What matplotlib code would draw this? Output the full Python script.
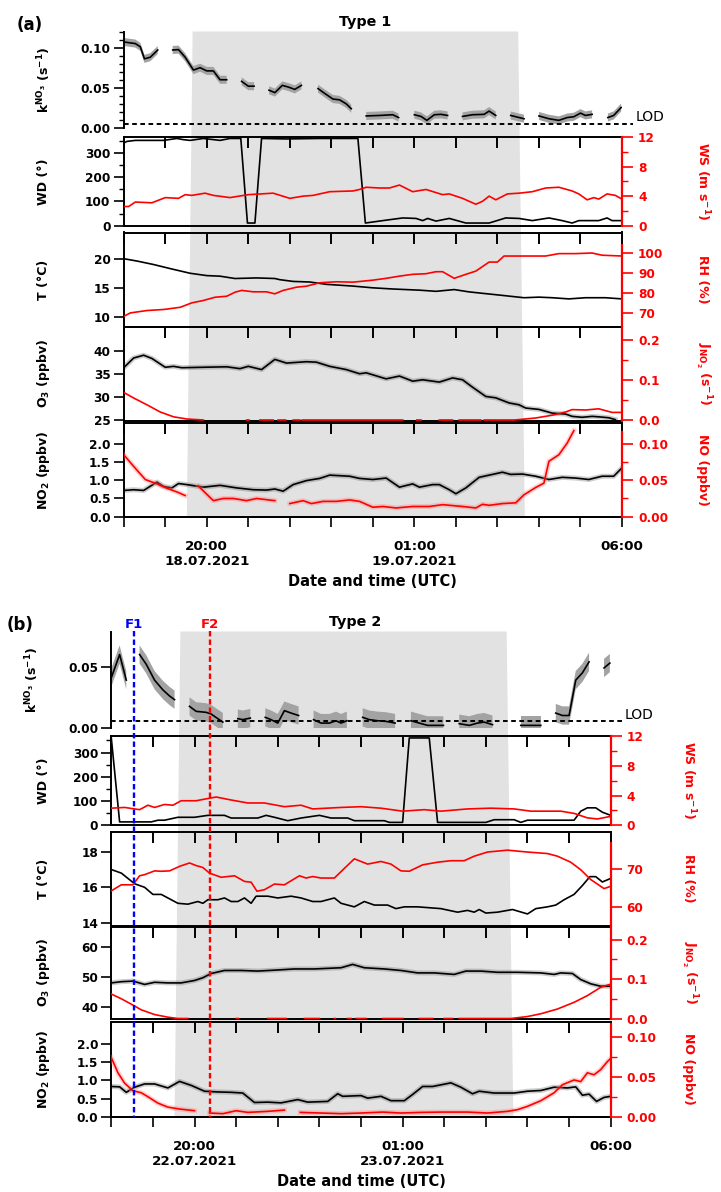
import numpy as np
import matplotlib
matplotlib.use('Agg')
import matplotlib.pyplot as plt
from matplotlib.patches import Polygon
from matplotlib.lines import Line2D
from matplotlib.ticker import FixedLocator, FormatStrFormatter

nan = np.nan

# time axis: hours after 18:00 UTC on the first date of each night

# ---------------- (a) Type 1, 18./19.07.2021 ----------------
k_a = np.array([
    [0.00, .107], [0.28, .105], [0.40, .101], [0.50, .086], [0.64, .088], [0.82, .097], [1.00, nan],
    [1.18, .097], [1.32, .0975], [1.48, .088], [1.68, .072], [1.84, .075], [2.00, .071], [2.16, .071],
    [2.32, .060], [2.48, .060], [2.65, nan],
    [2.84, .058], [3.00, .052], [3.14, .052], [3.30, nan],
    [3.50, .047], [3.64, .044], [3.82, .053], [3.96, .051], [4.12, .048], [4.28, .053], [4.50, nan],
    [4.68, .049], [4.84, .043], [5.04, .036], [5.20, .035], [5.36, .030], [5.48, .024], [5.65, nan],
    [5.84, .015], [6.16, .0156], [6.48, .0165], [6.62, .013], [6.80, nan],
    [7.00, .0165], [7.16, .0144], [7.30, .0095], [7.48, .0165], [7.64, .017], [7.80, .0156], [8.00, nan],
    [8.16, .0144], [8.40, .0165], [8.68, .017], [8.80, .021], [8.96, .0156], [9.15, nan],
    [9.32, .0156], [9.64, .0115], [9.80, nan],
    [10.00, .015], [10.24, .0115], [10.48, .0095], [10.68, .013], [10.84, .014], [11.00, .0185],
    [11.12, .0156], [11.28, .017], [11.45, nan],
    [11.66, .013], [11.80, .0156], [11.98, .0255]])
k_err_a = 0.005

wd_a = np.array([
    [0.00, 341], [0.08, 348], [0.28, 352], [0.96, 352], [1.28, 360], [1.44, 355], [1.60, 352], [1.92, 360],
    [2.32, 352], [2.56, 360], [2.82, 360], [2.98, 11], [3.16, 11], [3.32, 360], [3.92, 358], [4.72, 360],
    [5.64, 360], [5.82, 11], [6.24, 21], [6.72, 32], [7.04, 30], [7.20, 21], [7.32, 30], [7.52, 19],
    [7.84, 30], [8.24, 11], [8.80, 11], [9.20, 32], [9.52, 30], [9.84, 21], [10.24, 32], [10.56, 21],
    [10.80, 11], [10.96, 21], [11.44, 21], [11.64, 32], [11.76, 21], [12.00, 21]])

ws_a = np.array([
    [0.00, 2.6], [0.12, 2.6], [0.28, 3.2], [0.68, 3.1], [1.00, 3.8], [1.32, 3.7], [1.48, 4.2], [1.64, 4.1],
    [1.96, 4.4], [2.16, 4.1], [2.56, 3.8], [3.00, 4.2], [3.60, 4.4], [4.00, 3.7], [4.32, 4.0], [4.56, 4.1],
    [4.96, 4.6], [5.52, 4.7], [5.68, 4.9], [5.84, 5.2], [6.16, 5.1], [6.40, 5.1], [6.64, 5.5], [6.96, 4.6],
    [7.28, 4.9], [7.68, 4.2], [7.84, 4.3], [8.16, 3.7], [8.48, 2.9], [8.64, 3.3], [8.80, 4.0], [8.96, 3.5],
    [9.24, 4.3], [9.52, 4.4], [9.84, 4.6], [10.16, 5.1], [10.48, 5.2], [10.80, 4.7], [10.96, 4.3],
    [11.16, 3.5], [11.32, 3.8], [11.44, 3.6], [11.64, 4.3], [11.84, 4.1], [12.00, 3.6]])

temp_a = np.array([
    [0.00, 20.0], [0.32, 19.6], [0.72, 19.0], [1.12, 18.3], [1.60, 17.5], [2.00, 17.1], [2.32, 17.0],
    [2.68, 16.6], [3.20, 16.7], [3.64, 16.6], [3.76, 16.4], [4.08, 16.1], [4.48, 16.0], [4.88, 15.6],
    [5.52, 15.3], [6.00, 15.0], [6.48, 14.8], [7.12, 14.6], [7.52, 14.4], [7.96, 14.7], [8.32, 14.3],
    [8.72, 14.0], [9.12, 13.7], [9.64, 13.3], [10.00, 13.4], [10.32, 13.3], [10.72, 13.1], [11.12, 13.3],
    [11.60, 13.3], [12.00, 13.1]])

rh_a = np.array([
    [0.00, 68.3], [0.16, 70.0], [0.56, 71.2], [0.96, 71.7], [1.36, 72.8], [1.64, 75.0], [1.92, 76.2],
    [2.20, 77.8], [2.48, 78.3], [2.68, 80.3], [2.84, 81.2], [3.12, 80.5], [3.44, 80.5], [3.64, 79.5],
    [3.84, 81.2], [4.16, 82.8], [4.40, 83.3], [4.72, 85.0], [5.12, 85.5], [5.52, 85.3], [5.76, 85.8],
    [6.00, 86.3], [6.32, 87.2], [6.64, 88.3], [6.96, 89.2], [7.28, 89.5], [7.52, 90.5], [7.68, 90.5],
    [7.96, 87.2], [8.24, 89.2], [8.48, 90.8], [8.80, 95.3], [9.00, 95.3], [9.16, 98.3], [9.52, 98.3],
    [9.84, 98.3], [10.16, 98.3], [10.48, 99.5], [10.88, 99.5], [11.28, 99.8], [11.52, 98.7], [12.00, 98.3]])

o3_a = np.array([
    [0.00, 36.3], [0.24, 38.4], [0.48, 39.0], [0.68, 38.3], [1.00, 36.4], [1.20, 36.6], [1.40, 36.3],
    [1.92, 36.4], [2.48, 36.5], [2.80, 36.1], [3.00, 36.6], [3.32, 35.9], [3.64, 38.1], [3.92, 37.3],
    [4.40, 37.6], [4.64, 37.5], [4.96, 36.6], [5.36, 35.9], [5.68, 35.0], [5.84, 35.2], [6.32, 33.9],
    [6.64, 34.5], [6.96, 33.4], [7.20, 33.7], [7.60, 33.2], [7.92, 34.1], [8.16, 33.7], [8.40, 32.1],
    [8.72, 30.1], [8.96, 29.8], [9.28, 28.7], [9.52, 28.3], [9.68, 27.6], [10.00, 27.3], [10.32, 26.5],
    [10.64, 26.3], [10.80, 25.8], [11.04, 25.6], [11.28, 25.8], [11.44, 25.7], [11.68, 25.5], [11.84, 25.1]])

jno2_a = np.array([
    [0.00, .069], [0.24, .055], [0.56, .038], [0.88, .020], [1.20, .008], [1.52, .0025], [1.92, 0], [2.40, nan],
    [2.96, 0], [3.02, 0], [3.15, nan], [3.28, 0], [3.60, 0], [3.66, nan], [3.72, 0], [3.90, 0], [4.00, nan],
    [4.08, 0], [4.24, 0], [4.27, nan], [4.30, 0], [5.80, 0], [5.82, nan], [5.84, 0], [6.72, 0], [6.90, nan],
    [7.06, 0], [7.16, 0], [7.40, nan], [7.60, 0], [7.92, 0], [8.00, nan], [8.08, 0], [8.60, 0], [8.64, nan],
    [8.68, 0], [9.40, 0], [9.52, .001], [9.92, .005], [10.32, .012], [10.64, .020], [10.80, .026],
    [11.12, .025], [11.44, .028], [11.76, .019], [12.00, .019]])

no2_a = np.array([
    [0.00, .72], [0.24, .74], [0.48, .72], [0.80, .95], [0.96, .83], [1.16, .79], [1.32, .91], [1.52, .88],
    [1.92, .81], [2.32, .86], [2.72, .79], [3.12, .74], [3.44, .73], [3.64, .76], [3.84, .70], [4.08, .88],
    [4.40, .99], [4.72, 1.05], [4.96, 1.14], [5.44, 1.11], [5.68, 1.05], [6.00, 1.02], [6.32, 1.06],
    [6.64, .81], [6.96, .90], [7.12, .81], [7.44, .88], [7.60, .88], [7.84, .74], [8.00, .63], [8.24, .79],
    [8.56, 1.08], [8.88, 1.16], [9.12, 1.22], [9.32, 1.16], [9.60, 1.17], [9.92, 1.11], [10.24, 1.02],
    [10.56, 1.08], [10.88, 1.06], [11.20, 1.02], [11.52, 1.11], [11.80, 1.11], [12.00, 1.34]])

no_a = np.array([
    [0.00, .085], [0.24, .069], [0.52, .051], [0.80, .045], [1.04, .039], [1.28, .034], [1.48, .029], [1.60, nan],
    [1.80, .042], [1.96, .033], [2.16, .022], [2.40, .025], [2.64, .025], [2.96, .022], [3.20, .025],
    [3.64, .022], [3.80, nan],
    [4.00, .018], [4.32, .022], [4.52, .018], [4.80, .021], [5.12, .021], [5.44, .023], [5.68, .021],
    [6.00, .013], [6.24, .014], [6.56, .012], [6.96, .014], [7.36, .014], [7.68, .0165], [8.16, .014],
    [8.48, .012], [8.64, .017], [8.80, .0156], [9.12, .018], [9.44, .019], [9.64, .030], [9.92, .040],
    [10.12, .046], [10.24, .076], [10.48, .085], [10.68, .101], [10.84, .118]])

# ---------------- (b) Type 2, 22./23.07.2021 ----------------
k_b = np.array([
    [0.00, .041], [0.20, .060], [0.36, .039], [0.50, nan],
    [0.68, .060], [0.84, .052], [1.04, .039], [1.24, .031], [1.40, .026], [1.52, .023], [1.70, nan],
    [1.88, .0175], [2.04, .0134], [2.28, .0126], [2.40, .0112], [2.56, .0074], [2.68, .0046], [2.90, nan],
    [3.04, .0074], [3.16, .0066], [3.34, .0079], [3.50, nan],
    [3.70, .0085], [3.84, .0066], [4.00, .0038], [4.16, .014], [4.32, .012], [4.50, .010], [4.70, nan],
    [4.86, .0066], [5.04, .0038], [5.24, .0038], [5.40, .0057], [5.52, .0038], [5.66, .0057], [5.85, nan],
    [6.04, .0085], [6.20, .0066], [6.40, .0057], [6.60, .0052], [6.82, .0038], [7.00, nan],
    [7.20, .0057], [7.40, .0038], [7.60, .0019], [7.98, .0019], [8.20, nan],
    [8.36, .0033], [8.60, .0019], [8.80, .0038], [8.96, .0046], [9.16, .0025], [9.50, nan],
    [9.84, .0019], [10.32, .0019], [10.50, nan],
    [10.68, .012], [10.84, .010], [11.00, .010], [11.16, .039], [11.32, .045], [11.48, .054], [11.65, nan],
    [11.84, .049], [11.98, .053]])
k_err_b = 0.0075

wd_b = np.array([
    [0.00, 360], [0.20, 14], [0.96, 14], [1.12, 21], [1.28, 21], [1.60, 33], [2.00, 33], [2.32, 41],
    [2.72, 41], [2.88, 30], [3.52, 30], [3.72, 41], [3.92, 33], [4.24, 19], [4.56, 30], [5.00, 41],
    [5.28, 30], [5.68, 30], [5.84, 19], [6.56, 19], [6.68, 12], [7.00, 12], [7.16, 360], [7.64, 360],
    [7.84, 12], [9.00, 12], [9.20, 23], [9.68, 23], [9.84, 12], [10.00, 21], [11.12, 21], [11.28, 58],
    [11.44, 72], [11.64, 72], [11.80, 54], [12.00, 41]])

ws_b = np.array([
    [0.00, 2.3], [0.32, 2.4], [0.68, 2.1], [0.88, 2.7], [1.04, 2.4], [1.28, 2.8], [1.48, 2.7], [1.68, 3.3],
    [2.04, 3.3], [2.32, 3.6], [2.52, 3.8], [2.88, 3.4], [3.28, 3.0], [3.68, 3.0], [4.16, 2.5], [4.56, 2.7],
    [4.84, 2.2], [5.52, 2.4], [6.00, 2.5], [6.48, 2.3], [7.00, 1.9], [7.52, 2.1], [7.92, 1.9], [8.56, 2.2],
    [9.12, 2.3], [9.68, 2.2], [10.08, 1.9], [10.80, 1.9], [11.12, 1.6], [11.44, 1.0], [11.68, 0.85],
    [12.00, 1.2]])

temp_b = np.array([
    [0.00, 17.0], [0.24, 16.8], [0.56, 16.2], [0.80, 16.0], [1.00, 15.6], [1.20, 15.6], [1.60, 15.1],
    [1.84, 15.05], [2.08, 15.2], [2.20, 15.1], [2.32, 15.3], [2.56, 15.3], [2.72, 15.4], [2.88, 15.2],
    [3.04, 15.2], [3.20, 15.4], [3.36, 15.1], [3.48, 15.5], [3.76, 15.5], [4.00, 15.4], [4.32, 15.5],
    [4.56, 15.4], [4.84, 15.2], [5.04, 15.2], [5.36, 15.4], [5.52, 15.1], [5.84, 14.9], [6.08, 15.2],
    [6.32, 15.0], [6.64, 15.0], [6.84, 14.8], [7.04, 14.9], [7.36, 14.9], [7.92, 14.8], [8.32, 14.6],
    [8.56, 14.7], [8.72, 14.6], [8.84, 14.75], [9.00, 14.55], [9.28, 14.6], [9.64, 14.75], [10.00, 14.5],
    [10.20, 14.8], [10.48, 14.9], [10.68, 15.0], [10.88, 15.3], [11.12, 15.6], [11.32, 16.1],
    [11.50, 16.6], [11.64, 16.6], [11.80, 16.3], [12.00, 16.5]])

rh_b = np.array([
    [0.00, 64.3], [0.24, 65.9], [0.52, 65.9], [0.68, 68.3], [0.80, 68.6], [1.04, 69.6], [1.20, 69.5],
    [1.40, 69.6], [1.64, 70.8], [1.88, 71.7], [2.04, 71.0], [2.20, 70.5], [2.36, 69.0], [2.64, 67.9],
    [2.96, 68.3], [3.20, 66.8], [3.36, 66.6], [3.50, 64.2], [3.68, 64.6], [3.92, 66.1], [4.16, 65.9],
    [4.52, 68.3], [4.68, 67.7], [4.84, 68.1], [5.04, 67.7], [5.36, 67.7], [5.84, 72.8], [6.16, 71.4],
    [6.48, 72.1], [6.72, 71.4], [6.96, 69.6], [7.16, 69.5], [7.48, 71.2], [7.84, 71.9], [8.16, 72.3],
    [8.48, 72.3], [8.72, 73.5], [9.04, 74.6], [9.52, 75.1], [10.00, 74.6], [10.48, 74.2], [10.72, 73.5],
    [11.04, 71.9], [11.28, 69.9], [11.52, 67.3], [11.84, 64.9], [12.00, 65.5]])

o3_b = np.array([
    [0.00, 48.0], [0.24, 48.4], [0.52, 48.6], [0.80, 47.5], [1.04, 48.2], [1.36, 48.0], [1.68, 48.0],
    [2.00, 48.8], [2.20, 49.7], [2.40, 51.1], [2.72, 52.1], [3.12, 52.1], [3.52, 51.9], [3.92, 52.2],
    [4.40, 52.6], [4.88, 52.6], [5.52, 53.0], [5.80, 54.1], [6.08, 53.0], [6.56, 52.6], [6.96, 52.1],
    [7.36, 51.3], [7.76, 51.3], [8.24, 50.8], [8.52, 51.9], [8.88, 51.9], [9.28, 51.5], [9.76, 51.5],
    [10.32, 51.3], [10.64, 50.8], [10.80, 51.3], [11.08, 51.1], [11.28, 49.1], [11.52, 47.7],
    [11.76, 46.9], [12.00, 46.9]])

jno2_b = np.array([
    [0.00, .062], [0.24, .050], [0.52, .034], [0.72, .022], [1.04, .010], [1.36, .0034], [1.60, 0],
    [1.84, 0], [2.40, nan], [3.00, 0], [3.05, 0], [3.40, nan], [3.76, 0], [4.20, 0], [4.40, nan],
    [4.64, 0], [5.00, 0], [5.20, nan], [5.36, 0], [5.38, 0], [5.50, nan], [5.68, 0], [5.76, 0], [5.82, nan],
    [5.88, 0], [6.12, 0], [6.30, nan], [6.52, 0], [7.00, 0], [7.20, nan], [7.40, 0], [7.72, 0], [7.85, nan],
    [8.00, 0], [8.20, 0], [8.28, nan], [8.36, 0], [9.60, 0], [10.00, .005], [10.32, .012], [10.72, .024],
    [11.12, .041], [11.44, .058], [11.76, .079], [12.00, .087]])

no2_b = np.array([
    [0.00, .83], [0.20, .82], [0.36, .67], [0.56, .81], [0.80, .90], [1.04, .90], [1.36, .79], [1.64, .97],
    [1.92, .86], [2.24, .70], [2.56, .68], [2.88, .67], [3.16, .65], [3.44, .39], [3.76, .40], [4.08, .38],
    [4.48, .47], [4.72, .40], [5.20, .42], [5.44, .63], [5.56, .56], [6.00, .58], [6.16, .51], [6.48, .56],
    [6.72, .44], [7.04, .44], [7.24, .61], [7.48, .83], [7.72, .83], [8.16, .93], [8.40, .81], [8.68, .63],
    [8.84, .70], [9.20, .65], [9.68, .65], [10.00, .70], [10.32, .72], [10.64, .81], [10.96, .79],
    [11.16, .82], [11.32, .59], [11.48, .62], [11.66, .42], [11.84, .53], [12.00, .56]])

no_b = np.array([
    [0.00, .074], [0.16, .055], [0.32, .042], [0.52, .0325], [0.72, .030], [0.88, .025], [1.12, .017],
    [1.36, .012], [1.64, .0096], [2.00, .0075], [2.15, nan],
    [2.36, .0046], [2.68, .0038], [3.00, .0075], [3.28, .0054], [3.76, .0067], [4.16, .0083], [4.30, nan],
    [4.54, .0054], [5.04, .0046], [5.52, .0038], [6.00, .0046], [6.52, .0058], [6.96, .0046], [7.44, .0054],
    [7.92, .0058], [8.56, .0058], [9.04, .0046], [9.52, .0067], [9.76, .0088], [10.00, .013], [10.32, .020],
    [10.64, .030], [10.84, .040], [11.12, .046], [11.28, .044], [11.44, .055], [11.60, .0525],
    [11.76, .059], [11.92, .069], [12.00, .073]])

LOD = 0.0055
NIGHT_TOP = (1.66, 9.50)      # dark period edges at the top of each group
NIGHT_BOTTOM = (1.52, 9.66)   # and at the bottom
F1_TIME, F2_TIME = 0.54, 2.36
HOURS = np.arange(13)
DATES_A = ['18.07.2021', '19.07.2021']
DATES_B = ['22.07.2021', '23.07.2021']

# ---------------- figure ----------------
W, H = 721, 1192
RED = '#ff0000'
SHADE = '#e2e2e2'
BAND = '#a3a3a3'

plt.rcParams['font.family'] = ['DejaVu Sans']
plt.rcParams['font.weight'] = 'bold'
plt.rcParams['mathtext.default'] = 'bf'
plt.rcParams['axes.linewidth'] = 1.4

fig = plt.figure(figsize=(W / 100, H / 100), dpi=100)


def rect(top, bot, left, right):
    return [left / W, 1 - bot / H, (right - left) / W, (bot - top) / H]


def fy(y):
    return 1 - y / H


def set_left(ax, major, fmt, minor=None):
    ax.yaxis.set_major_locator(FixedLocator(major))
    ax.yaxis.set_major_formatter(FormatStrFormatter(fmt))
    if minor is not None:
        ax.yaxis.set_minor_locator(FixedLocator(minor))
    ax.tick_params(axis='y', which='major', direction='out', length=7, width=1.2, labelsize=8.7, pad=2.5)
    ax.tick_params(axis='y', which='minor', direction='out', length=3.5, width=1.0)


def set_right(ax2, major, fmt, minor, bounds):
    ax2.yaxis.set_major_locator(FixedLocator(major))
    ax2.yaxis.set_major_formatter(FormatStrFormatter(fmt))
    if minor is not None:
        ax2.yaxis.set_minor_locator(FixedLocator(minor))
    ax2.tick_params(axis='y', which='major', colors=RED, direction='out', length=8, width=1.2,
                    labelsize=8.7, pad=3.5)
    ax2.tick_params(axis='y', which='minor', colors=RED, direction='out', length=4.5, width=1.0)
    for s in ('top', 'left', 'bottom'):
        ax2.spines[s].set_visible(False)
    ax2.spines['right'].set_color(RED)
    ax2.spines['right'].set_linewidth(1.6)
    if bounds is not None:
        ax2.spines['right'].set_bounds(*bounds)


def glow(ax, xy, color, halo):
    ax.plot(xy[:, 0], xy[:, 1], color=halo, lw=3.6, alpha=0.35)
    ax.plot(xy[:, 0], xy[:, 1], color=color, lw=1.2)


def draw_group(g):
    L, R = g['x']
    rows = g['rows']
    span = R - L

    # night shading behind all panels
    t0, t1 = NIGHT_TOP
    b0, b1 = NIGHT_BOTTOM
    ytop, ybot = rows[0][0], rows[-1][1]
    pts = [(L + t0 / 12 * span, ytop), (L + t1 / 12 * span, ytop),
           (L + b1 / 12 * span, ybot), (L + b0 / 12 * span, ybot)]
    fig.add_artist(Polygon([(x / W, fy(y)) for x, y in pts], closed=True, facecolor=SHADE,
                           edgecolor='none', transform=fig.transFigure, zorder=-1))

    # NO3 reactivity
    ak = fig.add_axes(rect(*rows[0], L, R))
    ak.patch.set_visible(False)
    ak.set_xlim(0, 12)
    ak.set_ylim(0, g['kmax'])
    for s in ('top', 'right', 'bottom'):
        ak.spines[s].set_visible(False)
    ak.set_xticks([])
    set_left(ak, g['k_ticks'], '%.2f', g['k_minor'])
    k = g['k']
    ak.fill_between(k[:, 0], k[:, 1] - g['k_err'], k[:, 1] + g['k_err'], color=BAND, lw=0)
    ak.plot(k[:, 0], k[:, 1], color='black', lw=1.2)
    ak.plot([0, 12.26], [LOD, LOD], color='black', lw=1.4, ls=(0, (2.4, 1.8)), clip_on=False)
    ak.annotate('LOD', (12.33, LOD), xytext=(0, 4.5), textcoords='offset points', ha='left',
                va='center', fontsize=10, fontweight='normal', annotation_clip=False)

    panels = g['panels']
    for i, p in enumerate(panels):
        last = i == len(panels) - 1
        top_px, bot_px = rows[i + 1]
        ax = fig.add_axes(rect(top_px, bot_px, L, R))
        ax.patch.set_visible(False)
        ax.set_xlim(0, 12)
        ax.set_ylim(*p['ylim'])

        ax2 = ax.twinx()
        ax2.set_ylim(*p['ylim_r'])
        set_left(ax, p['ticks'], p['fmt'], p.get('minor'))
        set_right(ax2, p['ticks_r'], p['fmt_r'], p.get('minor_r'), p.get('bounds_r'))

        # hour ticks pointing into the panel from its top edge
        ax.set_xticks(HOURS)
        ax.xaxis.set_ticks_position('top')
        ax.tick_params(axis='x', which='major', top=True, bottom=False, labeltop=False,
                       labelbottom=False, direction='in', length=8, width=1.4)

        if last:
            sec = ax.secondary_xaxis('bottom')
            labels = [''] * len(HOURS)
            labels[2] = '20:00\n' + g['dates'][0]
            labels[7] = '01:00\n' + g['dates'][1]
            labels[12] = '06:00'
            sec.set_xticks(HOURS)
            sec.set_xticklabels(labels, linespacing=1.25)
            sec.tick_params(axis='x', direction='out', length=7.5, width=1.2, labelsize=9.7, pad=9)
            sec.spines['bottom'].set_linewidth(1.4)

        if p.get('glow'):
            glow(ax, p['left'], 'black', '#707070')
        else:
            ax.plot(p['left'][:, 0], p['left'][:, 1], color='black', lw=1.2)
        if p.get('glow_r'):
            glow(ax2, p['right'], RED, '#ff8080')
        else:
            ax2.plot(p['right'][:, 0], p['right'][:, 1], color=RED, lw=1.2)

        yc = (top_px + bot_px) / 2
        fig.text(43 / W, fy(yc), p['label'], rotation=90, ha='center', va='center', fontsize=9)
        fig.text(g['rx'] / W, fy(yc), p['label_r'], rotation=270, ha='center', va='center',
                 fontsize=9, color=RED)

    yk = (rows[0][0] + rows[0][1]) / 2
    fig.text(g['kx'] / W, fy(yk), 'k$^{NO_3}$ (s$^{-1}$)', rotation=90, ha='center', va='center',
             fontsize=9)
    fig.text((L + R) / 2 / W, fy(g['xlabel_y']), 'Date and time (UTC)', ha='center', va='center',
             fontsize=10.5)
    fig.text(g['letter_xy'][0] / W, fy(g['letter_xy'][1]), g['letter'], ha='center', va='center',
             fontsize=12)
    fig.text(g['title_xy'][0] / W, fy(g['title_xy'][1]), g['title'], ha='center', va='center',
             fontsize=10.3)


group_a = dict(
    x=(123.7, 622.0),
    rows=[(31.5, 128.0), (137.0, 225.7), (232.5, 326.5), (326.5, 421.0), (423.0, 516.7)],
    k=k_a, k_err=k_err_a, kmax=0.12, k_ticks=[0, 0.05, 0.10],
    k_minor=[0.01, 0.02, 0.03, 0.04, 0.06, 0.07, 0.08, 0.09, 0.11, 0.12],
    dates=DATES_A, rx=703, kx=44, xlabel_y=582, letter='(a)', letter_xy=(30, 25),
    title='Type 1', title_xy=(365, 22),
    panels=[
        dict(left=wd_a, right=ws_a, ylim=(0, 366), ylim_r=(0, 12),
             ticks=[0, 100, 200, 300], fmt='%d', minor=[50, 150, 250, 350],
             ticks_r=[0, 4, 8, 12], fmt_r='%d', minor_r=[2, 6, 10],
             label='WD (°)', label_r='WS (m s$^{-1}$)'),
        dict(left=temp_a, right=rh_a, ylim=(8.36, 24.5), ylim_r=(63.25, 110),
             ticks=[10, 15, 20], fmt='%d', ticks_r=[70, 80, 90, 100], fmt_r='%d',
             bounds_r=(63.25, 104), label='T (°C)', label_r='RH (%)'),
        dict(left=o3_a, right=jno2_a, ylim=(24.8, 45.2), ylim_r=(-0.0025, 0.2338),
             ticks=[25, 30, 35, 40], fmt='%d', ticks_r=[0, 0.1, 0.2], fmt_r='%.1f',
             minor_r=[0.05, 0.15], glow=True,
             label='O$_3$ (ppbv)', label_r='J$_{NO_2}$ (s$^{-1}$)'),
        dict(left=no2_a, right=no_a, ylim=(0, 2.57), ylim_r=(0, 0.1285),
             ticks=[0, 0.5, 1.0, 1.5, 2.0], fmt='%.1f', ticks_r=[0, 0.05, 0.10], fmt_r='%.2f',
             minor_r=[0.025, 0.075], bounds_r=(0, 0.116), glow=True, glow_r=True,
             label='NO$_2$ (ppbv)', label_r='NO (ppbv)'),
    ])

group_b = dict(
    x=(111.3, 610.7),
    rows=[(631.5, 727.7), (736.0, 825.3), (831.7, 925.5), (926.5, 1019.3), (1021.7, 1116.7)],
    k=k_b, k_err=k_err_b, kmax=0.0789, k_ticks=[0, 0.05], k_minor=None,
    dates=DATES_B, rx=689, kx=32, xlabel_y=1182, letter='(b)', letter_xy=(20, 625),
    title='Type 2', title_xy=(355, 622),
    panels=[
        dict(left=wd_b, right=ws_b, ylim=(0, 368), ylim_r=(0, 12),
             ticks=[0, 100, 200, 300], fmt='%d', minor=[50, 150, 250, 350],
             ticks_r=[0, 4, 8, 12], fmt_r='%d', minor_r=[2, 6, 10],
             label='WD (°)', label_r='WS (m s$^{-1}$)'),
        dict(left=temp_b, right=rh_b, ylim=(13.85, 19.13), ylim_r=(55.1, 80.0),
             ticks=[14, 16, 18], fmt='%d', ticks_r=[60, 70], fmt_r='%d',
             bounds_r=(55.1, 77), label='T (°C)', label_r='RH (%)'),
        dict(left=o3_b, right=jno2_b, ylim=(36.0, 66.6), ylim_r=(-0.002, 0.233),
             ticks=[40, 50, 60], fmt='%d', ticks_r=[0, 0.1, 0.2], fmt_r='%.1f',
             minor_r=[0.05, 0.15], glow=True,
             label='O$_3$ (ppbv)', label_r='J$_{NO_2}$ (s$^{-1}$)'),
        dict(left=no2_b, right=no_b, ylim=(0, 2.61), ylim_r=(0, 0.119),
             ticks=[0, 0.5, 1.0, 1.5, 2.0], fmt='%.1f', ticks_r=[0, 0.05, 0.10], fmt_r='%.2f',
             minor_r=[0.025, 0.075], bounds_r=(0, 0.116), glow=True, glow_r=True,
             label='NO$_2$ (ppbv)', label_r='NO (ppbv)'),
    ])

draw_group(group_a)
draw_group(group_b)

# F1 / F2 markers across the whole (b) stack
L_b, R_b = group_b['x']
y_top, y_bot = 631.5, 1116.7
for t, color, name in ((F1_TIME, '#0000ff', 'F1'), (F2_TIME, RED, 'F2')):
    xf = (L_b + t / 12 * (R_b - L_b)) / W
    fig.add_artist(Line2D([xf, xf], [fy(y_top), fy(y_bot)], transform=fig.transFigure, color=color,
                          lw=1.7, ls=(0, (2.3, 1.3)), zorder=5))
    fig.text(xf, fy(625), name, color=color, ha='center', va='center', fontsize=9.5)

fig.savefig('out.png', dpi=100)
